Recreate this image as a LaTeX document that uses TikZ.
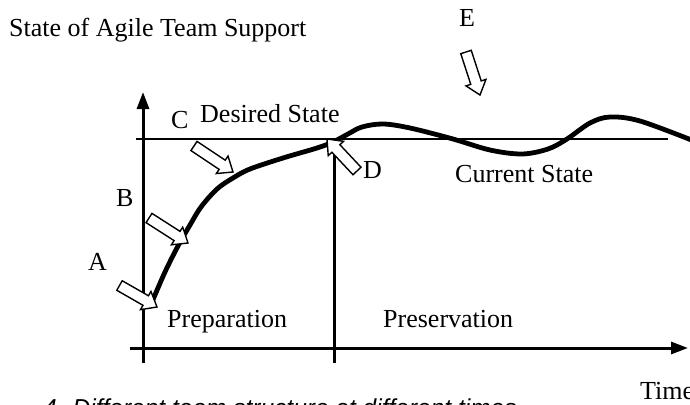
\documentclass[tikz,border=0pt]{standalone}
\usepackage{fontspec}
\setmainfont{Liberation Serif}
\newfontfamily\capfont{Liberation Sans}
\usetikzlibrary{arrows.meta,calc}
\tikzset{
  axis/.style={line width=3pt,-{Triangle[length=17pt,width=12pt]}},
  tick/.style={line width=3pt},
  thinline/.style={line width=2pt},
  curveline/.style={line width=4.8pt,line cap=round,line join=round},
  barrowstyle/.style={draw=black,fill=white,line width=1.4pt,line join=miter},
  lbl/.style={font=\fontsize{26}{30}\selectfont,inner sep=0pt,anchor=base west},
  caplbl/.style={font=\capfont\itshape\fontsize{24.5}{28}\selectfont,inner sep=0pt,anchor=base west}
}
\newcommand\blockarrow[2]{%
  \coordinate (bat) at (#1);
  \coordinate (bah) at (#2);
  \coordinate (bab) at ($(bah)!13pt!(bat)$);
  \draw[barrowstyle] ($(bat)!5.5pt!90:(bah)$) -- ($(bab)!5.5pt!-90:(bat)$) -- ($(bab)!10.5pt!-90:(bat)$) -- (bah) -- ($(bab)!10.5pt!90:(bat)$) -- ($(bab)!5.5pt!90:(bat)$) -- ($(bat)!5.5pt!-90:(bah)$) -- cycle;}
\begin{document}
\begin{tikzpicture}[x=1pt,y=-1pt]
\useasboundingbox (0,0) rectangle (690,404);
\clip (0,0) rectangle (690,404);
% coordinates
\coordinate (yb) at (143,363);
\coordinate (yt) at (143,92);
\coordinate (xl) at (130,348);
\coordinate (xr) at (688,348);
\coordinate (dl) at (136,138.5);
\coordinate (dr) at (668,138.5);
\coordinate (vt) at (334,138.5);
\coordinate (vb) at (334,363);
% axes and guides
\draw[axis] (xl) -- (xr);
\draw[axis] (yb) -- (yt);
\draw[tick] (vt) -- (vb);
\draw[thinline] (dl) -- (dr);
% current state curve
\draw[curveline] plot[smooth,tension=0.55] coordinates {
 (152,302) (165,272) (178,246) (190,225) (201,207) (217,189) (233,178)
 (250,169) (283,158) (317,148) (333,142) (348,134) (362,127) (383,124)
 (410,128) (453,139) (490,150) (522,154) (548,149) (567,139) (590,123)
 (610,117) (640,121) (694,141)};
% block arrows
\coordinate (At) at (119.5,285.5); \coordinate (Ah) at (157,307);
\coordinate (Bt) at (149,218);     \coordinate (Bh) at (188,243);
\coordinate (Ct) at (194,146);     \coordinate (Ch) at (233,172);
\coordinate (Dt) at (357,171);     \coordinate (Dh) at (327,139);
\coordinate (Et) at (466,52);      \coordinate (Eh) at (480,95);
\blockarrow{At}{Ah}
\blockarrow{Bt}{Bh}
\blockarrow{Ct}{Ch}
\blockarrow{Dt}{Dh}
\blockarrow{Et}{Eh}
% labels
\node[lbl] (title) at (9,37) {State of Agile Team Support};
\node[lbl] (lA) at (88,270) {A};
\node[lbl] (lB) at (116,206) {B};
\node[lbl] (lC) at (171,128) {C};
\node[lbl] (lD) at (363,178) {D};
\node[lbl] (lE) at (459,27) {E};
\node[lbl] (des) at (200,122) {Desired State};
\node[lbl] (cur) at (455,182) {Current State};
\node[lbl] (prep) at (167,327) {Preparation};
\node[lbl] (pres) at (383,327) {Preservation};
\node[lbl] (time) at (640,399) {Time};
\node[caplbl] (cap) at (43,416) {4. Different team structure at different times};
\end{tikzpicture}
\end{document}
